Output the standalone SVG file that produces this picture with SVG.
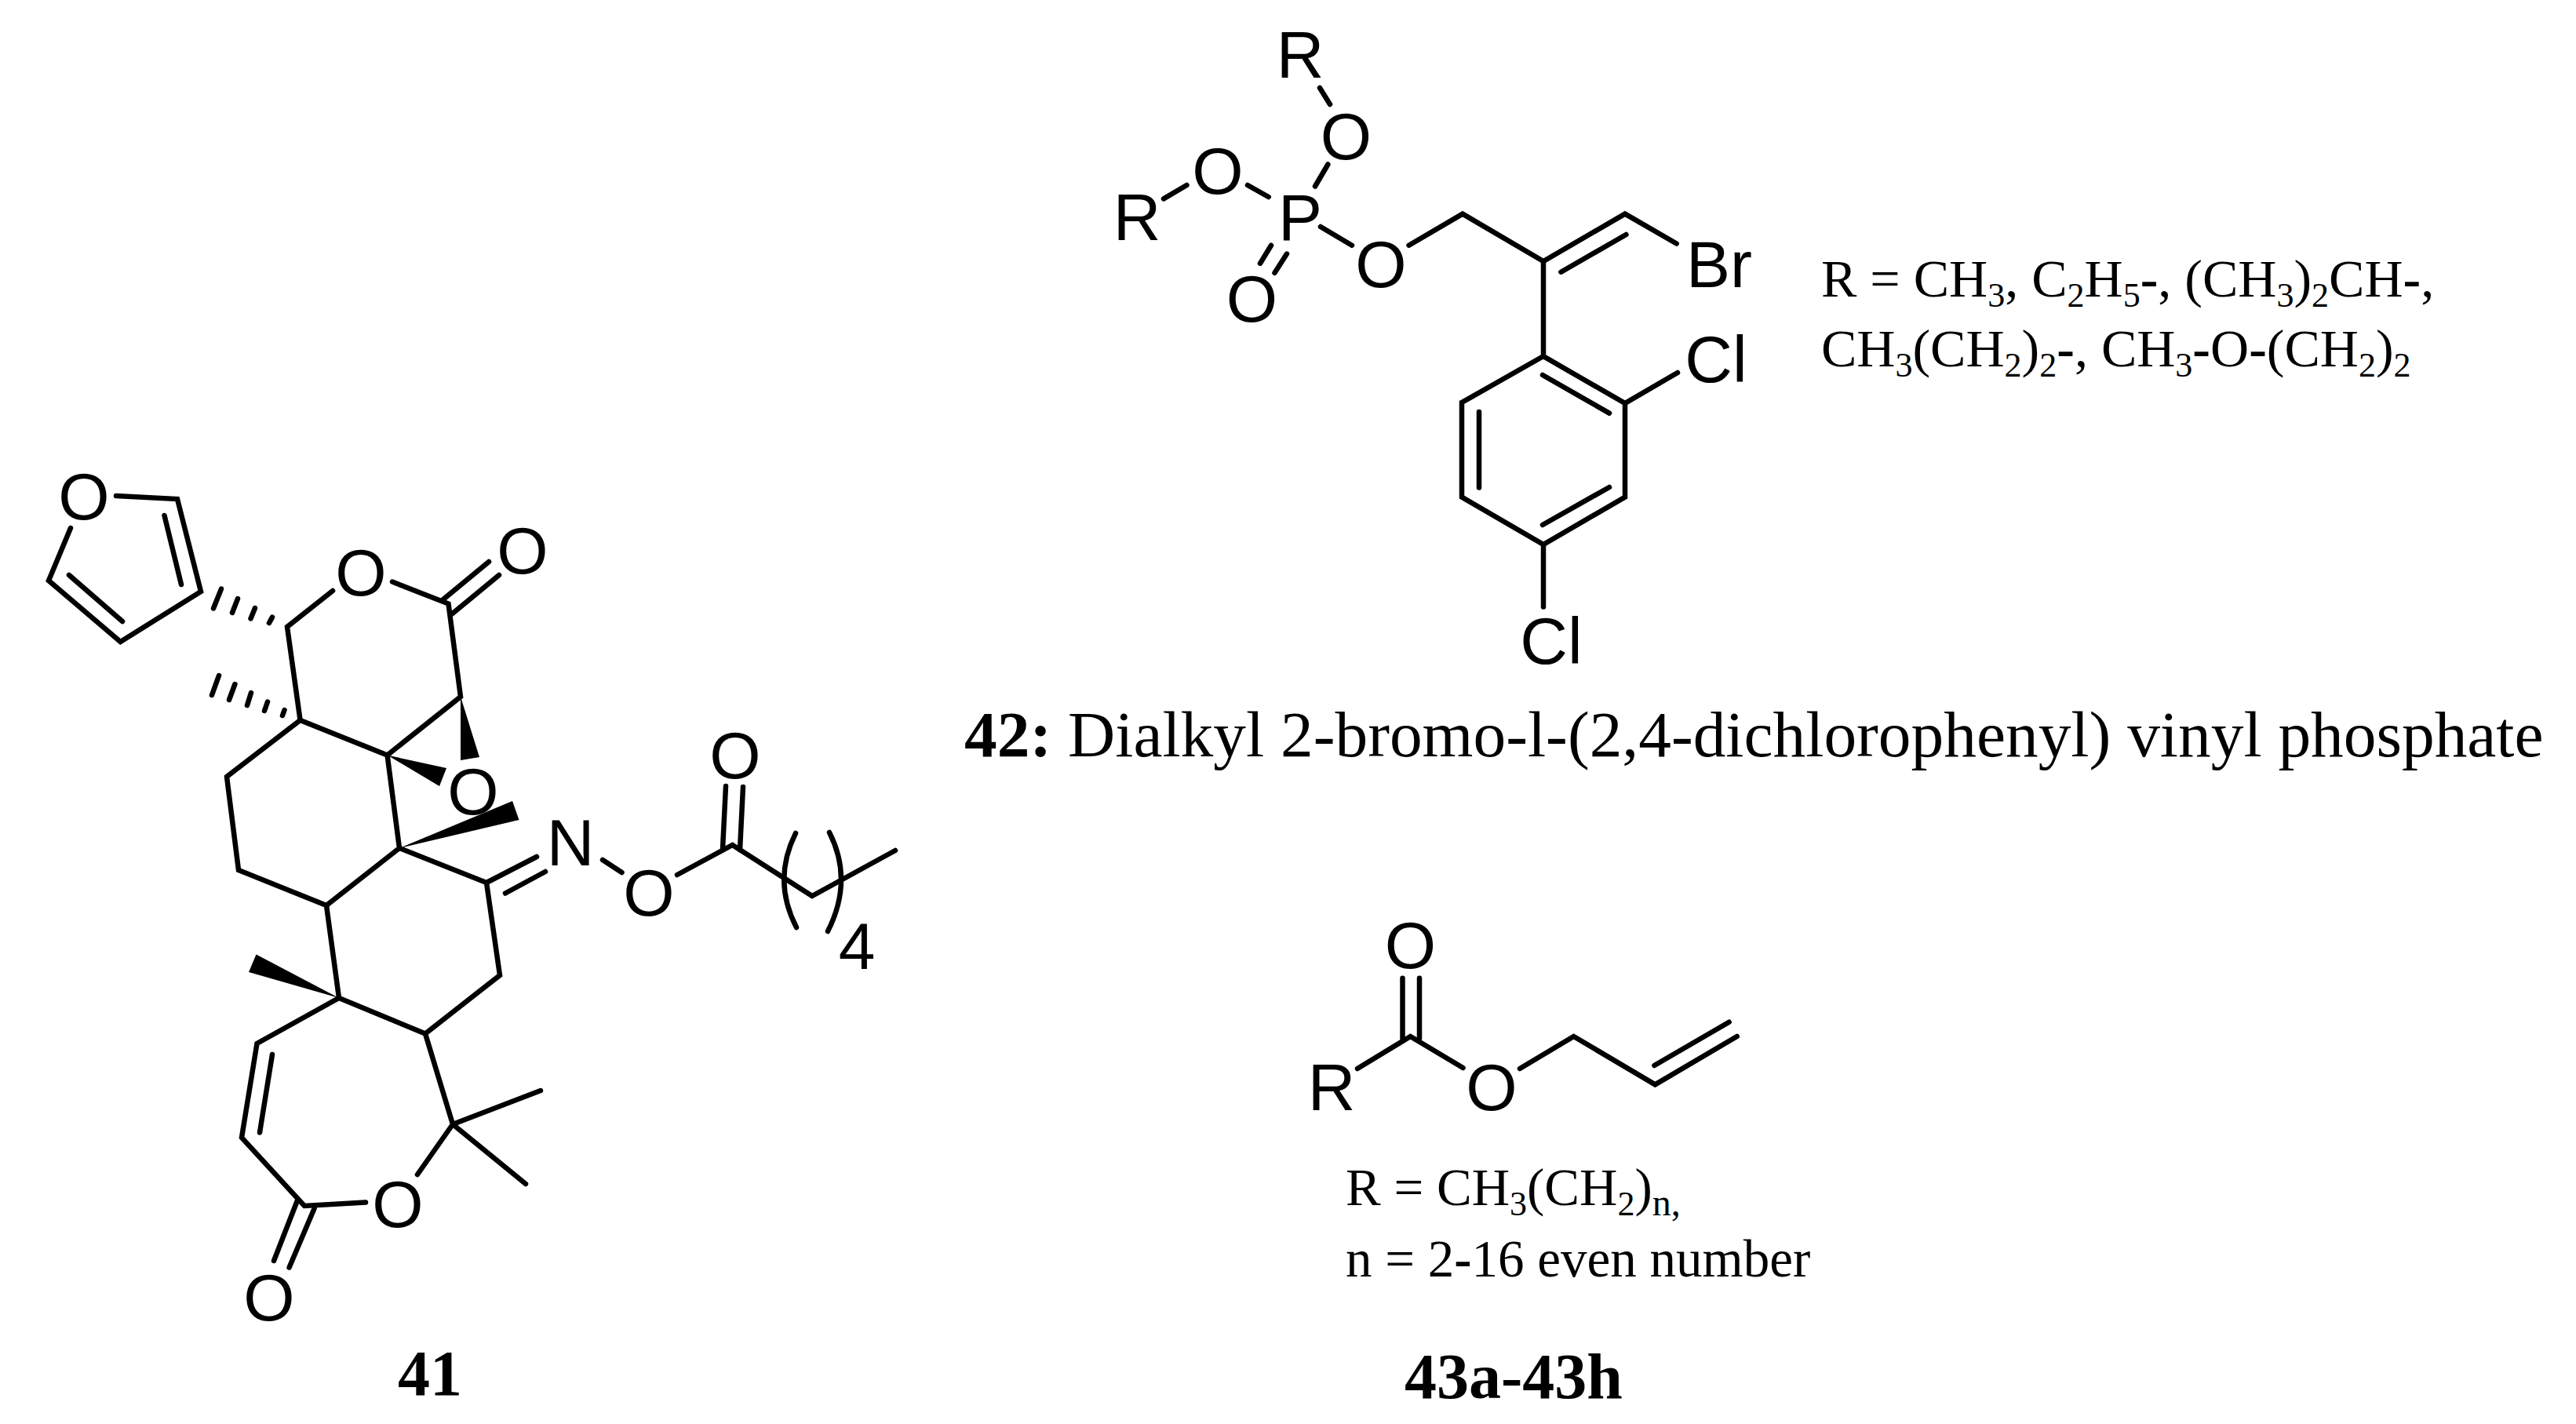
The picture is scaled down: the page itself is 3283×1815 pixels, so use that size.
<svg xmlns="http://www.w3.org/2000/svg" width="3283" height="1815" viewBox="0 0 3283 1815">
<style>
.bg{fill:#fff}
.bonds path{fill:none;stroke:#000;stroke-width:6.5;stroke-linecap:round;stroke-linejoin:miter}
.wedge{fill:#000;stroke:none}
.atom{font-family:"Liberation Sans",Arial,sans-serif;font-size:84px;fill:#000;text-anchor:middle}
.t{font-family:"Liberation Serif","Times New Roman",serif;font-size:68px;fill:#000}
.t2{font-family:"Liberation Serif","Times New Roman",serif;font-size:67px;fill:#000}
.lab{font-family:"Liberation Serif","Times New Roman",serif;font-size:82px;font-weight:bold;fill:#000}
.b{font-weight:bold}
.s{font-size:44px}
.s2{font-size:48px}
.d{font-family:"Liberation Serif","Times New Roman",serif;font-size:83.4px;fill:#000}
</style>
<rect class="bg" width="3283" height="1815"/>
<g id="compound-41">
<g class="bonds" id="bonds-41">
<path d="M148 632L226 636L256 754L153.5 818L62 740L90 673"/>
<path d="M209.5 657L231 745M88 733L156 792"/>
<path d="M282 750.6L272 775.5M303 763L296 781M325 775L319.5 788.5M347 786.6L343 794"/>
<path d="M424 753L366 799L382.6 918"/>
<path d="M500 741.5L571.5 769.6L587 888L493.6 962.5L382.6 918L289 990L304 1109L416 1154L509 1081L493.6 962.5"/>
<path d="M563 765.6L623 716M576 782.6L636 733"/>
<path d="M279 861L270 886M299.4 872L292 892M320 883L315 899M341 894.5L337 906M362.5 905L360 912"/>
<path d="M509 1081L620 1125L637 1243L542 1317.5L432 1272L416 1154"/>
<path d="M620 1125L684 1092M644 1138.5L695 1111"/>
<path d="M542 1317.5L577 1433L689 1390M577 1433L670 1509M577 1433L532 1497"/>
<path d="M432 1272L327.5 1330L308 1450L388 1537L466 1532.5"/>
<path d="M347 1344L331 1443.5"/>
<path d="M379 1530L349 1607M400.7 1540L368.6 1615.6"/>
<path d="M768 1096L792.5 1112M863 1115L933.5 1077L1035 1142L1141 1084"/>
<path d="M925 1002L921 1082M947 1003L943 1083"/>
<path d="M1014 1062Q984 1122 1015 1182M1057 1061Q1088 1122 1055 1187"/>
</g>
<polygon class="wedge" points="587,888 587,969 611,965"/>
<polygon class="wedge" points="493.6,962.5 569,979 560,1002"/>
<polygon class="wedge" points="509,1081 653,1021 661.5,1045"/>
<polygon class="wedge" points="432,1272 326.5,1216.6 317,1239"/>
<g id="atoms-41">
<text class="atom" x="107" y="662">O</text>
<text class="atom" x="460" y="759">O</text>
<text class="atom" x="666" y="731">O</text>
<text class="atom" x="603" y="1038">O</text>
<text class="atom" x="727" y="1103">N</text>
<text class="atom" x="827" y="1167">O</text>
<text class="atom" x="937" y="992">O</text>
<text class="atom" x="507" y="1564">O</text>
<text class="atom" x="343" y="1683">O</text>
<text class="atom" x="1092" y="1235">4</text>
</g>
<text class="lab" x="507" y="1778">41</text>
</g>
<g id="compound-42">
<g class="bonds" id="bonds-42">
<path d="M1682 112L1695 133M1692.4 209.5L1676 237.5"/>
<path d="M1483 253.4L1512.4 236M1590 236L1616.7 251"/>
<path d="M1683 289L1723 312.7M1795.5 312.7L1864 272.6L1967 333L2071 272.6L2136.7 310.5"/>
<path d="M1989.4 346.7L2072.4 299"/>
<path d="M1620 312.7L1606 335.7M1640 323.6L1624.5 347.8"/>
<path d="M1967 333V454L2071 514V633.6L1967 694L1863 633.6V513L1967 454"/>
<path d="M1966 478L2051 526.6M2051 621L1966 669M1885 525V621.5"/>
<path d="M2071 514L2138 475M1967 694V773.4"/>
</g>
<g id="atoms-42">
<text class="atom" x="1657" y="99">R</text>
<text class="atom" x="1715.5" y="203">O</text>
<text class="atom" x="1552" y="247">O</text>
<text class="atom" x="1449" y="306">R</text>
<text class="atom" x="1657" y="306">P</text>
<text class="atom" x="1760" y="366">O</text>
<text class="atom" x="1595.5" y="410">O</text>
<text class="atom" x="2191" y="366">Br</text>
<text class="atom" x="2187" y="487">Cl</text>
<text class="atom" x="1977" y="846">Cl</text>
</g>
<text class="t" x="2321" y="378">R = CH<tspan class="s" dy="13">3</tspan><tspan dy="-13">, C</tspan><tspan class="s" dy="13">2</tspan><tspan dy="-13">H</tspan><tspan class="s" dy="13">5</tspan><tspan dy="-13" class="b">-</tspan>, (CH<tspan class="s" dy="13">3</tspan><tspan dy="-13">)</tspan><tspan class="s" dy="13">2</tspan><tspan dy="-13">CH</tspan><tspan class="b">-</tspan>,</text>
<text class="t" x="2321" y="467">CH<tspan class="s" dy="13">3</tspan><tspan dy="-13">(CH</tspan><tspan class="s" dy="13">2</tspan><tspan dy="-13">)</tspan><tspan class="s" dy="13">2</tspan><tspan dy="-13" class="b">-</tspan>, CH<tspan class="s" dy="13">3</tspan><tspan dy="-13" class="b">-</tspan>O<tspan class="b">-</tspan>(CH<tspan class="s" dy="13">2</tspan><tspan dy="-13">)</tspan><tspan class="s" dy="13">2</tspan></text>
<text class="d" x="1229" y="964"><tspan class="b">42:</tspan> Dialkyl 2-bromo-l-(2,4-dichlorophenyl) vinyl phosphate</text>
</g>
<g id="compound-43">
<g class="bonds" id="bonds-43">
<path d="M1787.5 1246.7V1324M1809 1246.7V1324"/>
<path d="M1730 1362L1797.5 1321L1864.5 1361M1937 1362L2005.6 1321L2109.4 1382.4L2213.7 1321"/>
<path d="M2108.4 1358L2203.6 1302.7"/>
</g>
<g id="atoms-43">
<text class="atom" x="1797.5" y="1234">O</text>
<text class="atom" x="1697" y="1415">R</text>
<text class="atom" x="1901" y="1415">O</text>
</g>
<text class="t2" x="1715" y="1536">R = CH<tspan class="s" dy="13">3</tspan><tspan dy="-13">(CH</tspan><tspan class="s" dy="13">2</tspan><tspan dy="-13">)</tspan><tspan class="s2" dy="13">n,</tspan></text>
<text class="t2" x="1715" y="1627">n = 2<tspan class="b">-</tspan>16 even number</text>
<text class="lab" x="1790" y="1782">43a-43h</text>
</g>
</svg>
